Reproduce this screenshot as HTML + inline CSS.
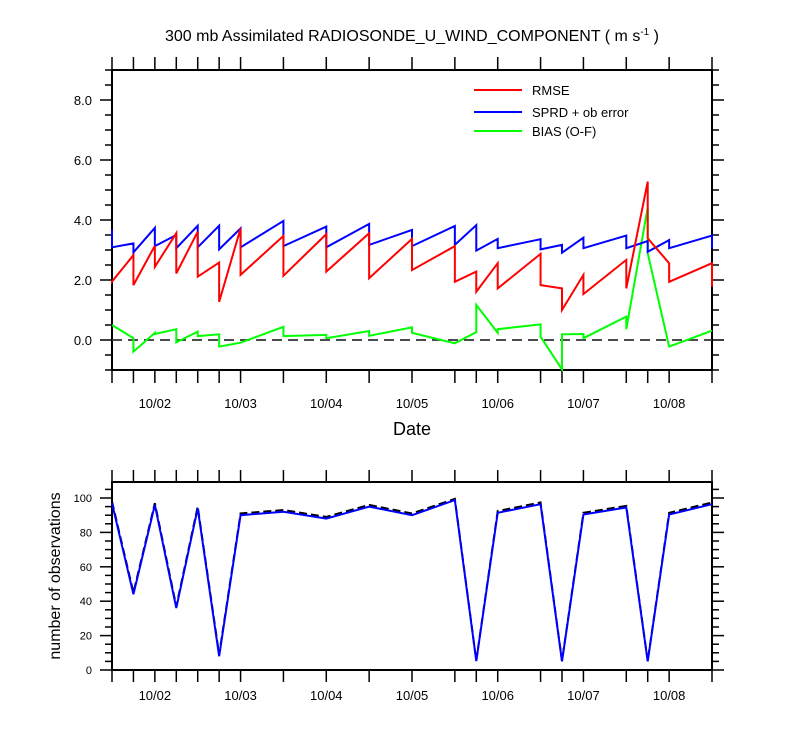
<!DOCTYPE html>
<html><head><meta charset="utf-8"><style>
html,body{margin:0;padding:0;background:#fff;}
svg text{font-family:"Liberation Sans",sans-serif;fill:#000;}
</style></head><body>
<svg id="chart" width="800" height="750" xmlns="http://www.w3.org/2000/svg">
<text x="412" y="41" font-size="16" text-anchor="middle">300 mb Assimilated RADIOSONDE_U_WIND_COMPONENT ( m s<tspan dy="-6" font-size="10">-1</tspan><tspan dy="6"> )</tspan></text>
<text x="412" y="435" font-size="18" text-anchor="middle">Date</text>
<text transform="translate(60,576) rotate(-90)" font-size="16" text-anchor="middle">number of observations</text>
<g id="topG"></g><g id="botG"></g>
<g>
<line x1="474" y1="90" x2="522" y2="90" stroke="#ff0000" stroke-width="2"/>
<text x="532" y="95" font-size="13">RMSE</text>
<line x1="474" y1="112" x2="522" y2="112" stroke="#0000ff" stroke-width="2"/>
<text x="532" y="117" font-size="13">SPRD + ob error</text>
<line x1="474" y1="131" x2="522" y2="131" stroke="#00ff00" stroke-width="2"/>
<text x="532" y="136" font-size="13">BIAS (O-F)</text>
</g>
</svg>
<script>
const hours=[0,6,12,18,24,30,36,48,60,72,84,96,102,108,120,126,132,144,150,156,168];
const rmseArr=[1.98,2.83,3.14,3.56,3.61,2.58,3.72,3.47,3.53,3.56,3.37,3.13,2.28,2.56,2.87,1.72,2.17,2.67,5.28,2.56,2.56];
const rmseDep=[1.95,1.83,2.44,2.22,2.11,1.27,2.17,2.14,2.28,2.06,2.33,1.94,1.61,1.72,1.83,1.0,1.53,1.72,3.39,1.94,1.78];
const sprdArr=[3.67,3.22,3.74,3.5,3.81,3.81,3.72,3.97,3.78,3.87,3.67,3.8,3.83,3.37,3.36,3.17,3.41,3.48,3.3,3.33,3.48];
const sprdDep=[3.09,2.92,3.13,3.06,3.09,3.02,3.09,3.13,3.09,3.17,3.13,3.17,2.98,3.06,3.02,2.91,3.06,3.06,2.94,3.06,3.04];
const biasArr=[0.5,0.06,0.24,0.36,0.28,0.19,-0.09,0.44,0.17,0.3,0.42,-0.11,0.26,0.24,0.52,-0.98,0.2,0.78,4.42,-0.22,0.31];
const biasDep=[0.5,-0.39,0.2,-0.08,0.13,-0.22,-0.09,0.13,0.06,0.14,0.24,-0.11,1.17,0.36,0.11,0.19,0.06,0.36,2.89,-0.22,0.31];
const obsUsed=[97,44,96,36,94,8,90,92,88,95,90,98.8,5.2,91.4,96.4,5,90.4,94.5,5,90.4,96.4];
const obsTotal=[98,45,97,37,95,9,91,93,89,96,91,99.5,5.5,92.4,97.4,5.3,91.4,95.4,5.3,91.4,97.4];
const dateLabels=["10/02","10/03","10/04","10/05","10/06","10/07","10/08"];
const dateHours=[12,36,60,84,108,132,156];
const topTickHours=[0,6,12,18,24,30,36,48,60,72,84,96,108,120,132,144,156,168];
const topYTicks=["0.0","2.0","4.0","6.0","8.0"];
const botYTicks=["0","20","40","60","80","100"];

const NS="http://www.w3.org/2000/svg";
const X0=112,X1=712;
const xs=h=>X0+(X1-X0)*h/168;
const yT=v=>340-30*v;
const yB=v=>670-1.72*v;
function mk(parent,tag,attrs){const e=document.createElementNS(NS,tag);for(const k in attrs)e.setAttribute(k,attrs[k]);parent.appendChild(e);return e;}
function line(p,x1,y1,x2,y2,w){return mk(p,'line',{x1:x1,y1:y1,x2:x2,y2:y2,stroke:'#000','stroke-width':w||1.5});}

const gTop=document.getElementById('topG');
const gBot=document.getElementById('botG');

const tf=mk(gTop,'rect',{x:X0,y:70,width:X1-X0,height:300,fill:'none',stroke:'#000','stroke-width':2});


topTickHours.forEach(h=>{line(gTop,xs(h),70,xs(h),57);});
hours.forEach(h=>{line(gTop,xs(h),370,xs(h),383);});
for(let v=-1;v<=9.001;v+=0.5){const maj=Math.abs(v/2-Math.round(v/2))<1e-6;const L=maj?12:7;line(gTop,X0,yT(v),X0-L,yT(v));line(gTop,X1,yT(v),X1+L,yT(v));}
topYTicks.forEach(t=>{const tx=mk(gTop,'text',{x:92,y:yT(parseFloat(t))+5,'font-size':13,'text-anchor':'end'});tx.textContent=t;

});
dateLabels.forEach((t,i)=>{const tx=mk(gTop,'text',{x:xs(dateHours[i]),y:408,'font-size':13,'text-anchor':'middle'});tx.textContent=t;

});
const zl=mk(gTop,'line',{x1:X0,y1:yT(0),x2:X1,y2:yT(0),stroke:'#333','stroke-width':1.8,'stroke-dasharray':'10,6'});


function saw(arr,dep,color,name){let d='';hours.forEach((h,i)=>{const x=xs(h);d+=(i?'L':'M')+x+' '+yT(arr[i])+'L'+x+' '+yT(dep[i]);});
const p=mk(gTop,'path',{d:d,fill:'none',stroke:color,'stroke-width':2});

}
saw(biasArr,biasDep,'#00ff00','bias-line');
saw(sprdArr,sprdDep,'#0000ff','sprd-line');
saw(rmseArr,rmseDep,'#ff0000','rmse-line');

const BT=yB(109.3);
const bf=mk(gBot,'rect',{x:X0,y:BT,width:X1-X0,height:670-BT,fill:'none',stroke:'#000','stroke-width':2});


topTickHours.forEach(h=>{line(gBot,xs(h),BT,xs(h),BT-12);});
hours.forEach(h=>{line(gBot,xs(h),670,xs(h),682);});
for(let v=0;v<=105;v+=5){const maj=v%20===0;const L=maj?12:7;line(gBot,X0,yB(v),X0-L,yB(v));line(gBot,X1,yB(v),X1+L,yB(v));}
botYTicks.forEach(t=>{const tx=mk(gBot,'text',{x:92,y:yB(parseFloat(t))+4,'font-size':11,'text-anchor':'end'});tx.textContent=t;

});
dateLabels.forEach((t,i)=>{const tx=mk(gBot,'text',{x:xs(dateHours[i]),y:700,'font-size':13,'text-anchor':'middle'});tx.textContent=t;

});
function pl(vals,attrs,name){const d=hours.map((h,i)=>(i?'L':'M')+xs(h)+' '+yB(vals[i])).join('');const p=mk(gBot,'path',Object.assign({d:d,fill:'none'},attrs));

}
pl(obsTotal,{stroke:'#000','stroke-width':2,'stroke-dasharray':'8,4'},'obs-total-line');
pl(obsUsed,{stroke:'#0000ff','stroke-width':2},'obs-used-line');
</script>
</body></html>
